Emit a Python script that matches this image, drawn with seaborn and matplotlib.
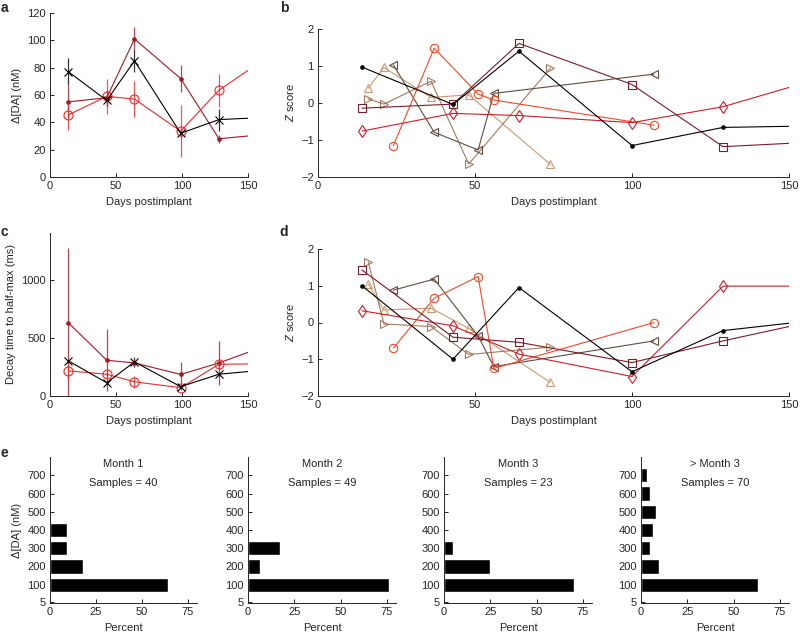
import matplotlib.pyplot as plt
import seaborn as sns

# ---- panels a / c : group means with error bars (last point only carries line to the edge)
days_ac = [14, 43, 64, 99, 128, 150]

da_black = [77, 56, 85, 32, 42, 43]
da_black_err = [10, 4, 8, 3, 8]
da_dark = [55, 58, 101, 72, 28, 30]
da_dark_err = [12, 6, 9, 10, 3]
da_red = [45.5, 59, 57, 33.5, 63.5, 78]
da_red_err = [11, 13, 13, 19, 12]

decay_black = [301, 114, 293, 80, 187, 210]
decay_black_err = [20, 15, 40, 15, 20]
decay_dark = [628, 307, 284, 185, 284, 375]
decay_dark_err = [640, 265, 30, 110, 190]
decay_red = [216, 187, 122, 71, 273, 275]
decay_red_err = [80, 30, 50, 20, 30]

# ---- panels b / d : z scores per electrode
days_long = [14, 43, 64, 100, 129, 150]
days_mid = [24, 37, 51, 56, 107]
days_early = [16, 21, 36, 48, 74]

zb_black = [0.97, -0.04, 1.40, -1.15, -0.66, -0.63]
zb_square = [-0.14, -0.03, 1.61, 0.50, -1.18, -1.09]
zb_diamond = [-0.76, -0.28, -0.34, -0.53, -0.10, 0.42]
zb_circle = [-1.15, 1.48, 0.24, 0.08, -0.60]
zb_up = [0.40, 0.96, 0.15, 0.22, -1.66]
zb_right = [0.11, -0.03, 0.59, -1.65, 0.94]
zb_left = [1.03, -0.79, -1.27, 0.26, 0.78]

zd_black = [1.00, -1.00, 0.95, -1.34, -0.22, -0.02]
zd_square = [1.43, -0.40, -0.54, -1.09, -0.50, -0.11]
zd_diamond = [0.32, -0.09, -0.86, -1.47, 0.99, 0.99]
zd_circle = [-0.70, 0.66, 1.25, -1.25, 0.00]
zd_up = [1.05, 0.34, 0.39, -0.16, -1.63]
zd_right = [1.65, -0.04, -0.11, -0.87, -0.67]
zd_left = [0.88, 1.18, -0.37, -1.20, -0.50]

# ---- panel e : histograms of amplitude
bins_m1 = [100, 200, 300, 400]
pct_m1 = [64, 18, 9, 9]
bins_m2 = [100, 200, 300]
pct_m2 = [76, 6.3, 17.2]
bins_m3 = [100, 200, 300]
pct_m3 = [70, 25, 5]
bins_m4 = [100, 200, 300, 400, 500, 600, 700]
pct_m4 = [63, 9.8, 4.9, 6.3, 8.2, 4.9, 3.3]
month_titles = ["Month 1", "Month 2", "Month 3", "> Month 3"]
month_samples = [40, 49, 23, 70]

# colours
BLACK = "#000000"
DARK = "#9e1b22"
RED = "#ee2a2a"
C_SQ = "#7a1c2a"
C_DI = "#c8202a"
C_CI = "#ef4a2c"
C_UP = "#c99a70"
C_RI = "#a07a5e"
C_LE = "#5f4d42"

sns.set_style("ticks")
plt.rcParams['font.family'] = ['Liberation Sans', 'DejaVu Sans']
plt.rcParams['mathtext.fontset'] = 'custom'
plt.rcParams['mathtext.it'] = 'Liberation Sans:italic'
plt.rcParams['mathtext.rm'] = 'Liberation Sans'
plt.rcParams['font.size'] = 8
plt.rcParams['axes.linewidth'] = 0.7
plt.rcParams['axes.edgecolor'] = '#262626'

W, H = 800, 632
fig = plt.figure(figsize=(W / 100, H / 100), dpi=100)


def add_ax(l, r, t, b):
    return fig.add_axes([l / W, 1 - b / H, (r - l) / W, (b - t) / H])


def style(ax):
    sns.despine(ax=ax)
    ax.tick_params(direction='in', length=3, width=0.7, labelsize=8, pad=3)


def line(ax, x, y, color, marker, ms, nmark=5, filled=False, mew=0.8):
    sns.lineplot(x=x, y=y, ax=ax, color=color, lw=0.8, marker=marker,
                 markersize=ms, markevery=list(range(nmark)),
                 markerfacecolor=color if filled else 'none',
                 markeredgecolor=color, markeredgewidth=mew,
                 sort=False, estimator=None, clip_on=True)


def errs(ax, x, y, e, color):
    ax.errorbar(x[:len(e)], y[:len(e)], yerr=e, fmt='none', ecolor=color,
                elinewidth=0.9, capsize=0, alpha=0.8)


# ---------------- a
ax_a = add_ax(50, 248, 13, 177)
errs(ax_a, days_ac, da_black, da_black_err, BLACK)
errs(ax_a, days_ac, da_dark, da_dark_err, DARK)
errs(ax_a, days_ac, da_red, da_red_err, RED)
line(ax_a, days_ac, da_dark, DARK, 'o', 2.5, filled=True)
line(ax_a, days_ac, da_red, RED, 'o', 6.5)
line(ax_a, days_ac, da_black, BLACK, 'x', 5.5)
ax_a.set_xlim(0, 150)
ax_a.set_ylim(0, 120)
ax_a.set_xticks([0, 50, 100, 150])
ax_a.set_yticks(range(0, 121, 20))
ax_a.set_xlabel("Days postimplant")
ax_a.set_ylabel("Δ[DA] (nM)")
style(ax_a)

# ---------------- c
ax_c = add_ax(50, 248, 233, 396)
errs(ax_c, days_ac, decay_black, decay_black_err, BLACK)
errs(ax_c, days_ac, decay_dark, decay_dark_err, DARK)
errs(ax_c, days_ac, decay_red, decay_red_err, RED)
line(ax_c, days_ac, decay_dark, DARK, 'o', 2.5, filled=True)
line(ax_c, days_ac, decay_red, RED, 'o', 6.5)
line(ax_c, days_ac, decay_black, BLACK, 'x', 5.5)
ax_c.set_xlim(0, 150)
ax_c.set_ylim(0, 1400)
ax_c.set_xticks([0, 50, 100, 150])
ax_c.set_yticks([0, 500, 1000])
ax_c.set_xlabel("Days postimplant")
ax_c.set_ylabel("Decay time to half-max (ms)")
style(ax_c)


# ---------------- b / d
def zpanel(ax, zb, zs, zdi, zc, zu, zr, zl):
    line(ax, days_early, zu, C_UP, '^', 5.5)
    line(ax, days_early, zr, C_RI, '>', 5.5)
    line(ax, days_mid, zl, C_LE, '<', 5.5)
    line(ax, days_mid, zc, C_CI, 'o', 6)
    line(ax, days_long, zdi, C_DI, 'd', 6)
    line(ax, days_long, zs, C_SQ, 's', 5.5)
    line(ax, days_long, zb, BLACK, 'o', 2.5, filled=True)
    ax.set_xlim(0, 150)
    ax.set_ylim(-2, 2)
    ax.set_xticks([0, 50, 100, 150])
    ax.set_yticks([-2, -1, 0, 1, 2])
    ax.set_yticklabels(["−2", "−1", "0", "1", "2"])
    ax.set_xlabel("Days postimplant")
    ax.set_ylabel("$Z$ score")
    style(ax)


ax_b = add_ax(318, 789, 29, 177)
zpanel(ax_b, zb_black, zb_square, zb_diamond, zb_circle, zb_up, zb_right, zb_left)
ax_d = add_ax(318, 789, 249, 396)
zpanel(ax_d, zd_black, zd_square, zd_diamond, zd_circle, zd_up, zd_right, zd_left)

# ---------------- e
hist_sets = [(bins_m1, pct_m1), (bins_m2, pct_m2), (bins_m3, pct_m3), (bins_m4, pct_m4)]
lefts = [(50, 197), (248, 396), (444, 592), (641, 789)]
for i, ((bins, pct), (l, r)) in enumerate(zip(hist_sets, lefts)):
    ax = add_ax(l, r, 457, 603)
    sns.barplot(x=pct, y=bins, orient='h', native_scale=True, color='black',
                saturation=1, width=0.78, errorbar=None, ax=ax)
    ax.set_xlim(0, 80)
    ax.set_ylim(0, 800)
    ax.set_xticks([0, 25, 50, 75])
    ax.set_yticks([5, 100, 200, 300, 400, 500, 600, 700])
    ax.set_xlabel("Percent")
    ax.set_ylabel("Δ[DA] (nM)" if i == 0 else "")
    ax.text(0.5, 0.955, month_titles[i], transform=ax.transAxes, ha='center',
            va='center', fontsize=8)
    ax.text(0.5, 0.82, f"Samples = {month_samples[i]}", transform=ax.transAxes,
            ha='center', va='center', fontsize=8)
    style(ax)

# panel letters
for letter, (px, py) in zip("abcde", [(4, 8), (284, 8), (4, 232), (284, 232), (4, 453)]):
    fig.text(px / W, 1 - py / H, letter, fontsize=10, fontweight='bold',
             ha='center', va='center')

fig.savefig("out.png", dpi=100)
